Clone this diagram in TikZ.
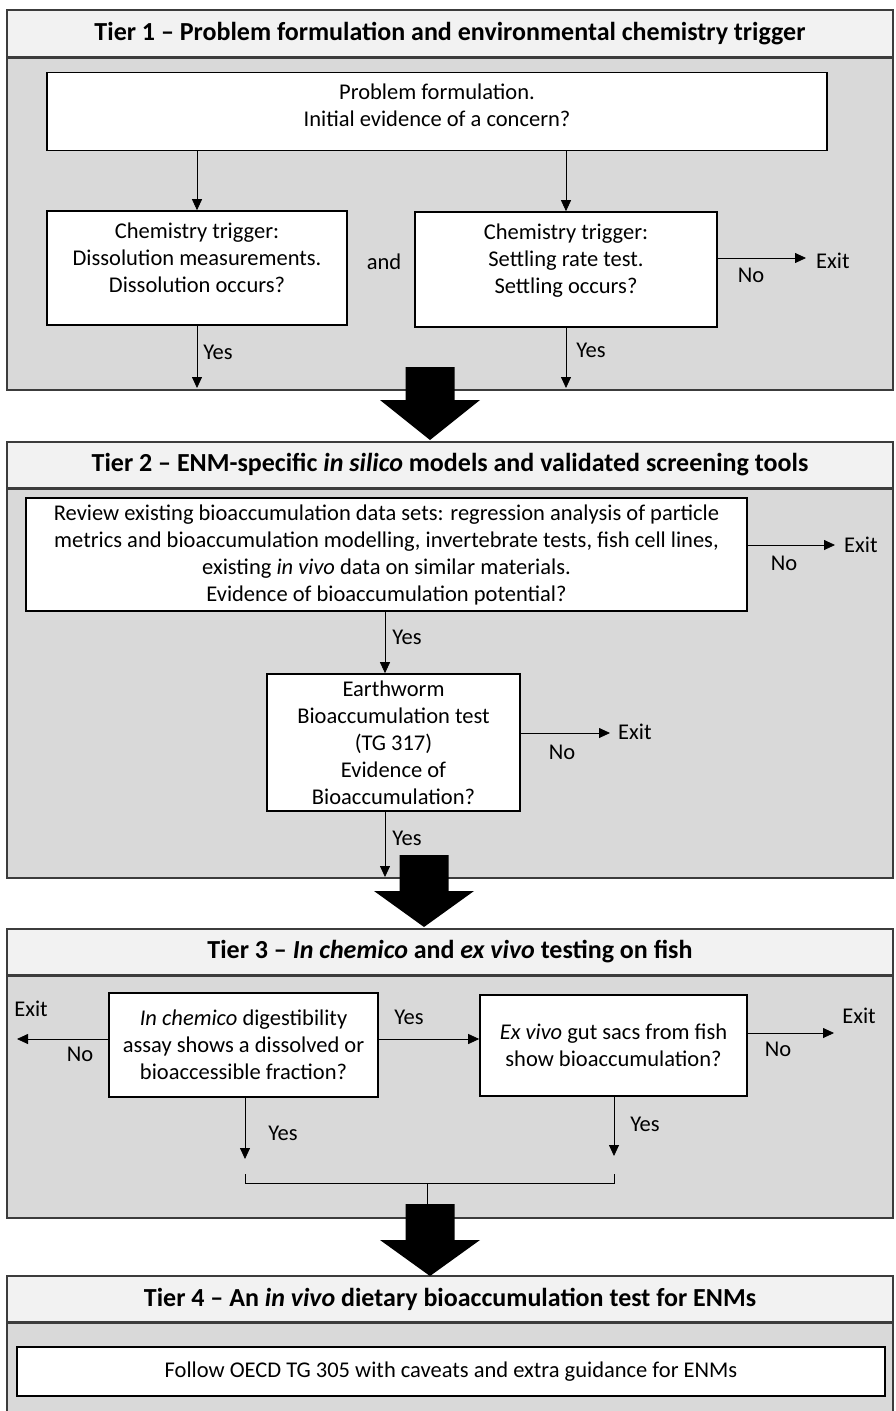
\documentclass[tikz,border=0pt]{standalone}
\usepackage{fontspec}
\setmainfont{Carlito}
\usetikzlibrary{arrows.meta,positioning}
\definecolor{headgray}{RGB}{242,242,242}
\definecolor{bodygray}{RGB}{217,217,217}
\definecolor{framegray}{RGB}{60,60,60}
\newcommand{\bodyfont}{\fontsize{22.5}{27}\selectfont}
\newcommand{\tierfont}{\fontsize{26}{30}\selectfont\bfseries}
% struts that lift the text towards the top of a box
\newcommand{\toppad}{\rule{0pt}{27pt}}
\newcommand{\botpad}[1]{\rule[-#1]{0pt}{#1}}

\tikzset{
  tierhead/.style={draw=framegray,line width=1.5pt,fill=headgray,
    minimum width=886pt,minimum height=46pt,font=\tierfont,inner sep=0pt},
  tierbody/.style={draw=framegray,line width=1.5pt,fill=bodygray},
  headline/.style={draw=framegray,line width=2.5pt},
  stepbox/.style={draw=black,line width=1.6pt,fill=white,align=center,
    font=\bodyfont,inner sep=0pt},
  flow/.style={-{Triangle[width=10pt,length=11pt]},line width=0.8pt},
  lbl/.style={font=\bodyfont,inner sep=0pt}
}

\begin{document}
\begin{tikzpicture}[x=1pt,y=-1pt]
\useasboundingbox (0,0) rectangle (896,1411);

% Tier 1
\draw[tierbody] (7,10) rectangle (893,390);
\node[tierhead,minimum height=47pt] (t1) at (450,33.5) {Tier 1 -- Problem formulation and environmental chemistry trigger};
\node[stepbox,minimum width=780pt] (pf) at (437,111.5) {\toppad Problem formulation.\\Initial evidence of a concern?\botpad{24pt}};
\node[stepbox,minimum width=300pt] (dis) at (197,268) {\toppad Chemistry trigger:\\Dissolution measurements.\\Dissolution occurs?\botpad{33pt}};
\node[stepbox,minimum width=302pt] (set) at (566,269.5) {\toppad Chemistry trigger:\\Settling rate test.\\Settling occurs?\botpad{34pt}};
\node[lbl] (and) at (384,262) {and};
\draw[flow] (dis |- pf.south) -- (dis.north);
\draw[flow] (set |- pf.south) -- (set.north);
\coordinate (x1) at (806,258);
\draw[flow] (set.east |- x1) -- (x1);
\node[lbl,anchor=west] (e1) at (816,261) {Exit};
\node[lbl] (n1) at (751,275) {No};
\coordinate (dis end) at (197,388);
\coordinate (set end) at (566,388);
\draw[flow] (dis.south) -- (dis end);
\draw[flow] (set.south) -- (set end);
\node[lbl] (yes1) at (218,352) {Yes};
\node[lbl] (yes2) at (591,350) {Yes};

% Tier 2
\draw[tierbody] (7,442) rectangle (893,878);
\node[tierhead] (t2) at (450,465) {Tier 2 -- ENM-specific \textit{in silico} models and validated screening tools};
\node[stepbox,minimum width=721pt,minimum height=113pt] (rev) at (386.5,554.5) {Review existing bioaccumulation data sets: regression analysis of particle\\metrics and bioaccumulation modelling, invertebrate tests, fish cell lines,\\existing \textit{in vivo} data on similar materials.\\Evidence of bioaccumulation potential?};
\coordinate (x2) at (835,545);
\draw[flow] (rev.east |- x2) -- (x2);
\node[lbl,anchor=west] (e2) at (844,545) {Exit};
\node[lbl] (n2) at (784,563) {No};
\node[stepbox,minimum width=253pt,minimum height=137pt] (ew) at (393.5,742.5) {Earthworm\\Bioaccumulation test\\(TG 317)\\Evidence of\\Bioaccumulation?};
\coordinate (ew end) at (385,877);
\draw[flow] (rev.south -| ew end) -- (ew.north -| ew end);
\node[lbl] (yes3) at (407,637) {Yes};
\coordinate (x3) at (610,733);
\draw[flow] (ew.east |- x3) -- (x3);
\node[lbl,anchor=west] (e3) at (618,732) {Exit};
\node[lbl] (n3) at (562,752) {No};
\draw[flow] (ew.south -| ew end) -- (ew end);
\node[lbl] (yes4) at (407,838) {Yes};

% Tier 3
\draw[tierbody] (7,929) rectangle (893,1218);
\node[tierhead] (t3) at (450,952) {Tier 3 -- \textit{In chemico} and \textit{ex vivo} testing on fish};
\node[stepbox,minimum width=269pt,minimum height=104pt] (chem) at (243.5,1045) {\textit{In chemico} digestibility\\assay shows a dissolved or\\bioaccessible fraction?};
\node[stepbox,minimum width=267pt,minimum height=101pt] (vivo) at (613.5,1045.5) {\textit{Ex vivo} gut sacs from fish\\show bioaccumulation?};
\coordinate (x5) at (17,1039);
\draw[flow] (chem.west |- x5) -- (x5);
\draw[flow] (chem.east |- x5) -- (vivo.west |- x5);
\node[lbl] (yes5) at (409,1017) {Yes};
\node[lbl] (e5) at (31,1009) {Exit};
\node[lbl] (n5) at (80,1054) {No};
\coordinate (x6) at (834,1033);
\draw[flow] (vivo.east |- x6) -- (x6);
\node[lbl] (e6) at (859,1016) {Exit};
\node[lbl] (n6) at (778,1049) {No};
\coordinate (chem end) at (245,1159);
\coordinate (vivo end) at (614,1156);
\draw[flow] (chem.south -| chem end) -- (chem end);
\draw[flow] (vivo.south -| vivo end) -- (vivo end);
\node[lbl] (yes6) at (283,1133) {Yes};
\node[lbl] (yes7) at (645,1124) {Yes};
\coordinate (join) at (427,1183);
\draw[line width=0.8pt] ([yshift=-15pt]chem end) |- (join) -| ([yshift=-18pt]vivo end);
\draw[line width=0.8pt] (join) -- ++(0,22);

% Tier 4
\draw[tierbody] (7,1276) rectangle (893,1420);
\node[tierhead] (t4) at (450,1299) {Tier 4 -- An \textit{in vivo} dietary bioaccumulation test for ENMs};
\node[stepbox,minimum width=868pt,minimum height=49pt] (oecd) at (451,1371.5) {Follow OECD TG 305 with caveats and extra guidance for ENMs};

\foreach \t in {t1,t2,t3,t4}
  \draw[headline] (\t.south west) -- (\t.south east);

% block arrows between tiers
\foreach \c/\top/\neck/\tip in {430/367/400/440, 424/855/891/927, 430/1204/1240/1276}
  \fill (\c-24.5,\top) -- (\c+24.5,\top) -- (\c+24.5,\neck) -- (\c+50,\neck)
    -- (\c,\tip) -- (\c-50,\neck) -- (\c-24.5,\neck) -- cycle;
\end{tikzpicture}
\end{document}
